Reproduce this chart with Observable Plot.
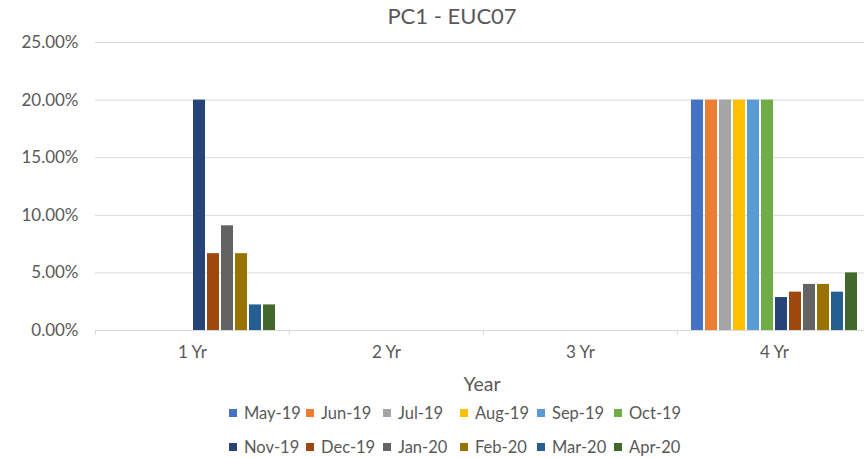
<!DOCTYPE html>
<html>
<head>
<meta charset="utf-8">
<script src="https://cdn.jsdelivr.net/npm/d3@7"></script>
<script src="https://cdn.jsdelivr.net/npm/@observablehq/plot@0.6"></script>
<style>
  html, body { margin: 0; padding: 0; background: #fff; overflow: hidden; }
  #wrap { position: relative; width: 864px; height: 458px; font-family: Lato, "Open Sans", sans-serif; color: #595959; }
  #title { position: absolute; top: 2px; left: 252px; width: 400px; text-align: center; font-size: 22px; line-height: 28px; }
  #plot { position: absolute; top: 30px; left: 0; }
  #xlabel { position: absolute; top: 371px; left: 382px; width: 200px; text-align: center; font-size: 19.5px; line-height: 26px; }
  #legend { position: absolute; top: 402px; left: 229px; display: grid; grid-template-columns: repeat(6, 77px); row-gap: 13px; font-size: 16.5px; }
  .item { display: flex; align-items: center; height: 21px; white-space: nowrap; }
  .sw { width: 8px; height: 8px; margin-right: 7px; flex: none; }
</style>
</head>
<body>
<div id="wrap">
  <div id="title">PC1 - EUC07</div>
  <div id="plot"></div>
  <div id="xlabel">Year</div>
  <div id="legend"></div>
</div>
<script>
const categories = ["1 Yr", "2 Yr", "3 Yr", "4 Yr"];
const series = ["May-19", "Jun-19", "Jul-19", "Aug-19", "Sep-19", "Oct-19",
                "Nov-19", "Dec-19", "Jan-20", "Feb-20", "Mar-20", "Apr-20"];
const colors = ["#4472C4", "#ED7D31", "#A5A5A5", "#FFC000", "#5B9BD5", "#70AD47",
                "#264478", "#9E480E", "#636363", "#997300", "#255E91", "#43682B"];
const yr1 = [0, 0, 0, 0, 0, 0, 0.20, 0.0667, 0.0909, 0.0667, 0.0222, 0.0222];
const yr2 = [0, 0, 0, 0, 0, 0, 0, 0, 0, 0, 0, 0];
const yr3 = [0, 0, 0, 0, 0, 0, 0, 0, 0, 0, 0, 0];
const yr4 = [0.20, 0.20, 0.20, 0.20, 0.20, 0.20, 0.0286, 0.0333, 0.04, 0.04, 0.0333, 0.05];
const yTicks = [0, 0.05, 0.10, 0.15, 0.20, 0.25];

const valuesByCat = [yr1, yr2, yr3, yr4];
const data = [];
categories.forEach((c, i) => series.forEach((s, j) => data.push({cat: c, series: s, value: valuesByCat[i][j]})));

const W = 864, mL = 94, mR = -7;
const step = (W - mL - mR) / categories.length;

const chart = Plot.plot({
  width: W,
  height: 330,
  marginLeft: mL,
  marginRight: mR,
  marginTop: 12,
  marginBottom: 30,
  style: {fontFamily: "Lato, 'Open Sans', sans-serif", fontSize: "17px", color: "#595959", background: "transparent", overflow: "visible"},
  fx: {domain: categories, padding: 0},
  x: {domain: series, paddingInner: 0.12, paddingOuter: 0.8, axis: null},
  y: {domain: [0, 0.25], axis: null},
  color: {domain: series, range: colors},
  marks: [
    Plot.gridY(yTicks, {stroke: "#d9d9d9", strokeOpacity: 1, strokeWidth: 1}),
    Plot.barY(data, {fx: "cat", x: "series", y: "value", fill: "series"}),
    Plot.ruleY([0], {stroke: "#d9d9d9", strokeWidth: 1}),
    Plot.axisY(yTicks, {tickFormat: d3.format(".2%"), tickSize: 0, tickPadding: 17, fontSize: 17, fill: "#595959", label: null}),
    Plot.axisFx({anchor: "bottom", tickSize: 0, tickPadding: 15, fontSize: 17, fill: "#595959", label: null}),
    Plot.axisFx({anchor: "bottom", tickSize: 5, tickFormat: () => "", stroke: "#d9d9d9", dx: -step / 2, label: null})
  ]
});
document.getElementById("plot").appendChild(chart);

const legend = document.getElementById("legend");
series.forEach((s, i) => {
  const it = document.createElement("div");
  it.className = "item";
  const sw = document.createElement("span");
  sw.className = "sw";
  sw.style.background = colors[i];
  const t = document.createElement("span");
  t.textContent = s;
  it.appendChild(sw);
  it.appendChild(t);
  legend.appendChild(it);
});
</script>
</body>
</html>
